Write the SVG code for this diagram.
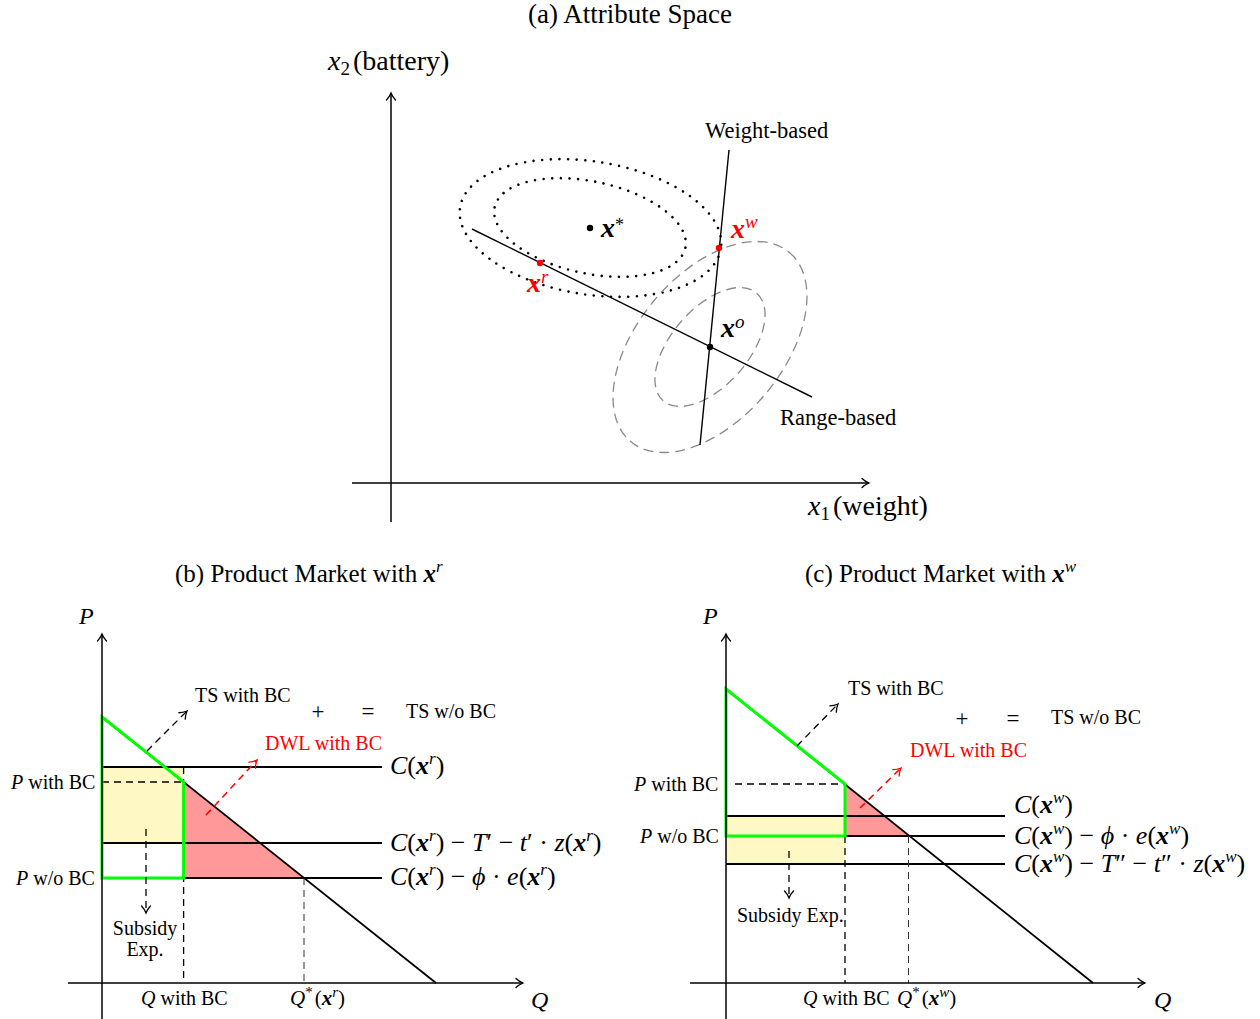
<svg xmlns="http://www.w3.org/2000/svg" width="1260" height="1019" viewBox="0 0 1260 1019">
<style>
text { font-family: "Liberation Serif", "Times New Roman", "DejaVu Serif", serif; fill: #000; }
.i { font-style: italic; }
.b { font-style: italic; font-weight: bold; }
.red { fill: #ff0000; }
.lbl { font-size: 20px; }
.op { font-size: 23px; }
.m { font-size: 26px; }
.ax { stroke: #000; stroke-width: 1.5; fill: none; }
.ln { stroke: #000; stroke-width: 1.8; fill: none; }
.dot { stroke: #000; stroke-width: 2.6; fill: none; stroke-dasharray: 0 8.6; stroke-linecap: round; }
.gd { stroke: #8a8a8a; stroke-width: 1.3; fill: none; stroke-dasharray: 10 6; }
.dsh { stroke: #000; stroke-width: 1.3; fill: none; stroke-dasharray: 7 5; }
.dthin { stroke: #333; stroke-width: 1; fill: none; stroke-dasharray: 7 5; }
.rdsh { stroke: #ff0000; stroke-width: 1.5; fill: none; stroke-dasharray: 7 5; }
.grn { stroke: #00ff00; stroke-width: 3; fill: none; stroke-linejoin: miter; }
.yel { fill: #fdf8c4; stroke: none; }
.pink { fill: #ff9999; stroke: none; }
</style>
<defs>
<marker id="ah" viewBox="-10 -7 12 14" refX="0" refY="0" markerWidth="12" markerHeight="14" markerUnits="userSpaceOnUse" orient="auto" overflow="visible">
<path d="M-7,-4.5 C-4.5,-2 -1.5,-0.6 0,0 C-1.5,0.6 -4.5,2 -7,4.5" fill="none" stroke="#000" stroke-width="1.3" stroke-linecap="round" stroke-dasharray="none"/>
</marker>
<marker id="ahr" viewBox="-10 -7 12 14" refX="0" refY="0" markerWidth="12" markerHeight="14" markerUnits="userSpaceOnUse" orient="auto" overflow="visible">
<path d="M-7,-4.5 C-4.5,-2 -1.5,-0.6 0,0 C-1.5,0.6 -4.5,2 -7,4.5" fill="none" stroke="#ff0000" stroke-width="1.3" stroke-linecap="round" stroke-dasharray="none"/>
</marker>
</defs>

<!-- (a) Attribute space -->
<g id="title-a"><text x="630" y="23" font-size="27" text-anchor="middle">(a) Attribute Space</text></g>
<g id="axes-a">
<line class="ax" x1="391" y1="522" x2="391" y2="93" marker-end="url(#ah)"/>
<line class="ax" x1="352" y1="483" x2="869" y2="483" marker-end="url(#ah)"/>
<text x="328" y="70" font-size="28"><tspan class="i">x</tspan><tspan font-size="19" dy="5">2</tspan><tspan dy="-5" dx="3">(battery)</tspan></text>
<text x="808" y="515" font-size="28"><tspan class="i">x</tspan><tspan font-size="19" dy="5">1</tspan><tspan dy="-5" dx="3">(weight)</tspan></text>
</g>
<g id="indiff-star">
<ellipse class="dot" cx="590.5" cy="228" rx="132" ry="66.5" transform="rotate(9 590.5 228)"/>
<ellipse class="dot" cx="590" cy="227.5" rx="97.5" ry="46" transform="rotate(12 590 227.5)"/>
</g>
<g id="indiff-o">
<ellipse class="gd" cx="710" cy="347" rx="123.5" ry="72.7" transform="rotate(-50 710 347)"/>
<ellipse class="gd" cx="710" cy="347" rx="71.3" ry="38.5" transform="rotate(-49 710 347)"/>
</g>
<g id="connectors-a">
<line class="ln" style="stroke-width:1.4" x1="472" y1="229" x2="812" y2="397"/>
<line class="ln" style="stroke-width:1.4" x1="729" y1="150" x2="700" y2="445"/>
</g>
<g id="label-weight-based"><text x="705" y="138" font-size="22.5">Weight-based</text></g>
<g id="label-range-based"><text x="780" y="425" font-size="22.5">Range-based</text></g>
<g id="node-xstar">
<circle cx="590" cy="228" r="3.2" fill="#000"/>
<text x="601" y="237" font-size="28"><tspan class="b">x</tspan><tspan font-size="18" dy="-6">*</tspan></text>
</g>
<g id="node-xo">
<circle cx="710" cy="347" r="3.2" fill="#000"/>
<text x="721" y="337" font-size="28"><tspan class="b">x</tspan><tspan class="i" font-size="19" dy="-9">o</tspan></text>
</g>
<g id="node-xr">
<circle cx="540" cy="263" r="3.2" fill="#ff0000"/>
<text x="527" y="292" font-size="28" class="red"><tspan class="b red">x</tspan><tspan class="i red" font-size="19" dy="-9">r</tspan></text>
</g>
<g id="node-xw">
<circle cx="719" cy="248" r="3.2" fill="#ff0000"/>
<text x="731" y="238" font-size="28" class="red"><tspan class="b red">x</tspan><tspan class="i red" font-size="19" dy="-10">w</tspan></text>
</g>

<!-- (b) Product market with x^r -->
<g id="title-b"><text x="175" y="582" font-size="25">(b) Product Market with <tspan class="b">x</tspan><tspan class="i" font-size="17" dy="-10">r</tspan></text></g>
<g id="regions-b">
<rect class="yel" x="102" y="767" width="81.6" height="76"/>
<polygon class="pink" points="183.6,782 183.6,878 304,878"/>
</g>
<g id="lines-b">
<line class="ln" x1="102" y1="767" x2="382" y2="767"/>
<line class="ln" x1="102" y1="843" x2="382" y2="843"/>
<line class="ln" x1="102" y1="878" x2="382" y2="878"/>
<line class="ln" x1="102" y1="717" x2="436" y2="983"/>
<line class="dsh" x1="102" y1="782" x2="183.6" y2="782"/>
<line class="dsh" x1="183.6" y1="767" x2="183.6" y2="983"/>
<line class="dthin" x1="304" y1="878" x2="304" y2="983"/>
<path class="grn" d="M102,717 L183.6,782 L183.6,878 L102,878 Z"/>
</g>
<g id="axes-b">
<line class="ax" x1="102" y1="1019" x2="102" y2="634" marker-end="url(#ah)"/>
<line class="ax" x1="68" y1="983" x2="523" y2="983" marker-end="url(#ah)"/>
<text x="79" y="624" font-size="24" class="i">P</text>
<text x="531" y="1008" font-size="24" class="i">Q</text>
</g>
<g id="connectors-b">
<line class="dsh" x1="147" y1="751" x2="187" y2="711" marker-end="url(#ah)"/>
<line class="rdsh" x1="206" y1="815" x2="257" y2="760" marker-end="url(#ahr)"/>
<line class="dsh" x1="146" y1="829" x2="146" y2="913" marker-end="url(#ah)"/>
</g>
<g id="labels-b">
<text class="lbl" x="195" y="702">TS with BC</text>
<text class="op" x="318" y="719" text-anchor="middle">+</text>
<text class="op" x="368" y="719" text-anchor="middle">=</text>
<text class="lbl" x="406" y="718">TS w/o BC</text>
<text class="lbl red" x="265" y="750">DWL with BC</text>
<text class="lbl" x="11" y="789"><tspan class="i">P</tspan> with BC</text>
<text class="lbl" x="16" y="885"><tspan class="i">P</tspan> w/o BC</text>
<text class="lbl" x="145" y="935" text-anchor="middle">Subsidy</text>
<text class="lbl" x="145" y="956" text-anchor="middle">Exp.</text>
<text class="lbl" x="141" y="1005"><tspan class="i">Q</tspan> with BC</text>
<text font-size="21" x="290" y="1005"><tspan class="i">Q</tspan><tspan font-size="15" dy="-8">*</tspan><tspan dy="8" dx="2">(</tspan><tspan class="b">x</tspan><tspan class="i" font-size="15" dy="-8">r</tspan><tspan dy="8">)</tspan></text>
</g>
<g id="cost-labels-b">
<text class="m" x="390" y="774"><tspan class="i">C</tspan>(<tspan class="b">x</tspan><tspan class="i" font-size="17" dy="-10">r</tspan><tspan dy="10">)</tspan></text>
<text class="m" x="390" y="851"><tspan class="i">C</tspan>(<tspan class="b">x</tspan><tspan class="i" font-size="17" dy="-10">r</tspan><tspan dy="10">) − </tspan><tspan class="i">T</tspan>′ − <tspan class="i">t</tspan>′ · <tspan class="i">z</tspan>(<tspan class="b">x</tspan><tspan class="i" font-size="17" dy="-10">r</tspan><tspan dy="10">)</tspan></text>
<text class="m" x="390" y="885"><tspan class="i">C</tspan>(<tspan class="b">x</tspan><tspan class="i" font-size="17" dy="-10">r</tspan><tspan dy="10">) − </tspan><tspan class="i">ϕ</tspan> · <tspan class="i">e</tspan>(<tspan class="b">x</tspan><tspan class="i" font-size="17" dy="-10">r</tspan><tspan dy="10">)</tspan></text>
</g>

<!-- (c) Product market with x^w -->
<g id="title-c"><text x="805" y="582" font-size="25">(c) Product Market with <tspan class="b">x</tspan><tspan class="i" font-size="17" dy="-10">w</tspan></text></g>
<g id="regions-c">
<rect class="yel" x="726" y="816" width="119" height="48"/>
<polygon class="pink" points="845,784 845,836 909,836"/>
</g>
<g id="lines-c">
<line class="ln" x1="726" y1="816" x2="1005" y2="816"/>
<line class="ln" x1="726" y1="836" x2="1005" y2="836"/>
<line class="ln" x1="726" y1="864" x2="1005" y2="864"/>
<line class="ln" x1="726" y1="689" x2="1093" y2="983"/>
<line class="dsh" x1="735" y1="784" x2="845" y2="784"/>
<line class="dsh" x1="845" y1="836" x2="845" y2="983"/>
<line class="dthin" x1="908.5" y1="836" x2="908.5" y2="983"/>
<path class="grn" d="M726,689 L845,784 L845,836 L726,836 Z"/>
</g>
<g id="axes-c">
<line class="ax" x1="726" y1="1019" x2="726" y2="634" marker-end="url(#ah)"/>
<line class="ax" x1="690" y1="983" x2="1145" y2="983" marker-end="url(#ah)"/>
<text x="703" y="624" font-size="24" class="i">P</text>
<text x="1154" y="1008" font-size="24" class="i">Q</text>
</g>
<g id="connectors-c">
<line class="dsh" x1="797" y1="746" x2="838" y2="704" marker-end="url(#ah)"/>
<line class="rdsh" x1="860" y1="808" x2="901" y2="768" marker-end="url(#ahr)"/>
<line class="dsh" x1="789" y1="851" x2="789" y2="898" marker-end="url(#ah)"/>
</g>
<g id="labels-c">
<text class="lbl" x="848" y="695">TS with BC</text>
<text class="op" x="962" y="726" text-anchor="middle">+</text>
<text class="op" x="1013" y="726" text-anchor="middle">=</text>
<text class="lbl" x="1051" y="724">TS w/o BC</text>
<text class="lbl red" x="910" y="757">DWL with BC</text>
<text class="lbl" x="634" y="791"><tspan class="i">P</tspan> with BC</text>
<text class="lbl" x="640" y="843"><tspan class="i">P</tspan> w/o BC</text>
<text class="lbl" x="737" y="922">Subsidy Exp.</text>
<text class="lbl" x="803" y="1005"><tspan class="i">Q</tspan> with BC</text>
<text font-size="21" x="897" y="1005"><tspan class="i">Q</tspan><tspan font-size="15" dy="-8">*</tspan><tspan dy="8" dx="2">(</tspan><tspan class="b">x</tspan><tspan class="i" font-size="15" dy="-8">w</tspan><tspan dy="8">)</tspan></text>
</g>
<g id="cost-labels-c">
<text class="m" x="1014" y="813"><tspan class="i">C</tspan>(<tspan class="b">x</tspan><tspan class="i" font-size="17" dy="-10">w</tspan><tspan dy="10">)</tspan></text>
<text class="m" x="1014" y="844"><tspan class="i">C</tspan>(<tspan class="b">x</tspan><tspan class="i" font-size="17" dy="-10">w</tspan><tspan dy="10">) − </tspan><tspan class="i">ϕ</tspan> · <tspan class="i">e</tspan>(<tspan class="b">x</tspan><tspan class="i" font-size="17" dy="-10">w</tspan><tspan dy="10">)</tspan></text>
<text class="m" x="1014" y="872"><tspan class="i">C</tspan>(<tspan class="b">x</tspan><tspan class="i" font-size="17" dy="-10">w</tspan><tspan dy="10">) − </tspan><tspan class="i">T</tspan>″ − <tspan class="i">t</tspan>″ · <tspan class="i">z</tspan>(<tspan class="b">x</tspan><tspan class="i" font-size="17" dy="-10">w</tspan><tspan dy="10">)</tspan></text>
</g>
</svg>
